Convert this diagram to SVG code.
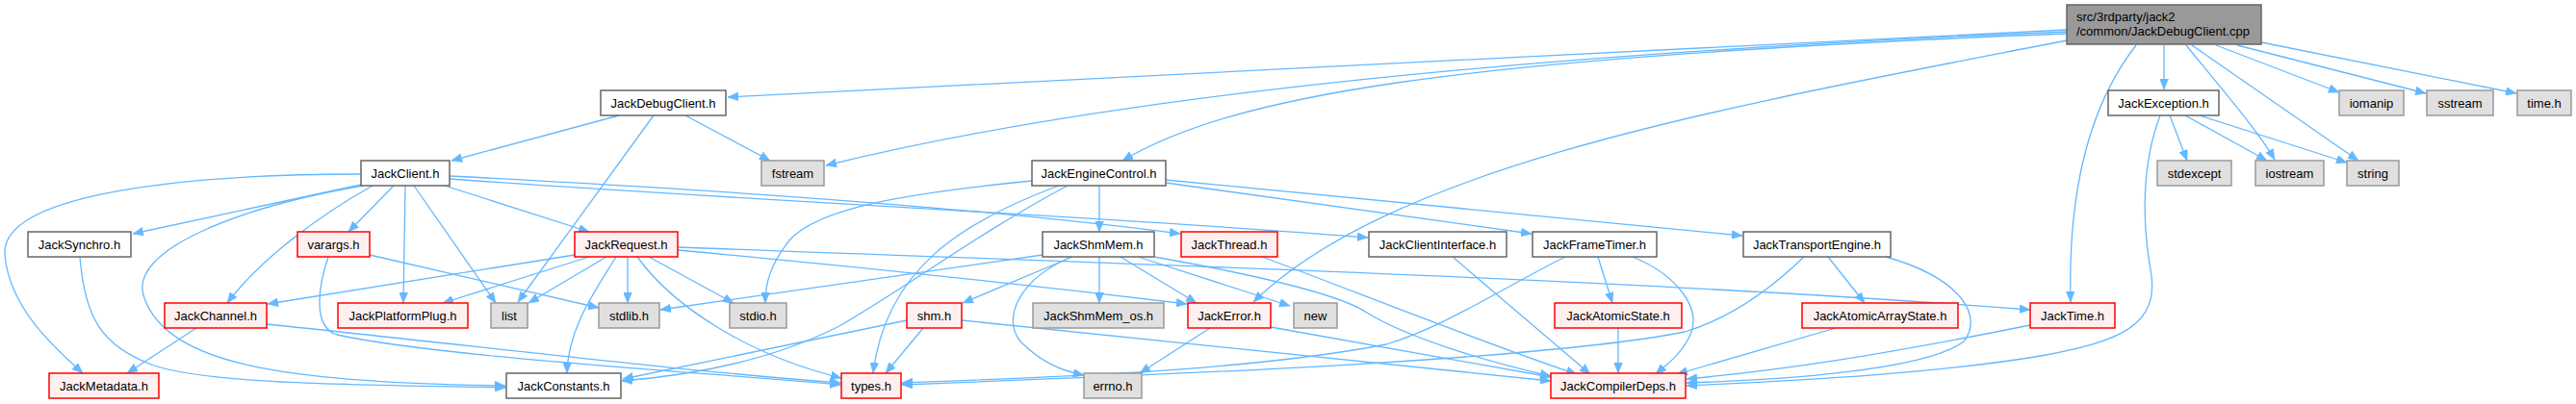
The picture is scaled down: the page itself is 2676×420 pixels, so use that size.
<svg xmlns="http://www.w3.org/2000/svg" width="2676" height="420" viewBox="0 0 2676 420">
<style>
text{font-family:"Liberation Sans",Arial,sans-serif;font-size:13px;fill:#000;text-anchor:middle}
.n rect{fill:#fff;stroke:#666;stroke-width:1.5}
.g rect{fill:#e0e0e0;stroke:#999;stroke-width:1.5}
.r rect{fill:#fff0f0;stroke:#f00;stroke-width:1.5}
.root rect{fill:#999;stroke:#666;stroke-width:1.5}
.root text{text-anchor:start}
#edges path{fill:none;stroke:#63b8ff;stroke-width:1.3;marker-end:url(#ah)}
</style>
<defs>
<marker id="ah" markerUnits="userSpaceOnUse" markerWidth="12" markerHeight="9" refX="11" refY="4.5" orient="auto">
<path d="M0,0 L11,4.5 L0,9 z" fill="#63b8ff" stroke="#63b8ff" stroke-width="0.5"/>
</marker>
</defs>
<rect width="2676" height="420" fill="#fff"/>
<g id="edges">
<path d="M2147,31 C1700,55 1100,80 756,101"/>
<path d="M2147,33 C1600,55 1150,100 858,172"/>
<path d="M2147,35 C1500,60 1280,100 1166,167"/>
<path d="M2147,42 C1800,110 1450,170 1302,314"/>
<path d="M2219,47 C2170,110 2148,200 2151,314"/>
<path d="M2248,47 L2248,93"/>
<path d="M2271,47 C2310,95 2345,135 2363,166"/>
<path d="M2277,47 L2450,167"/>
<path d="M2302,47 L2430,96"/>
<path d="M2324,47 L2520,97"/>
<path d="M2349,44 L2614,97"/>
<path d="M643,120 L469,167"/>
<path d="M679,120 L538,314"/>
<path d="M712,120 L800,167"/>
<path d="M375,181 C200,181 0,200 5,265 C10,320 55,360 86,388"/>
<path d="M375,192 L138,243"/>
<path d="M377,193 C250,215 130,260 150,310 C175,380 300,398 525,401"/>
<path d="M387,193 C330,225 270,270 236,315"/>
<path d="M409,193 L362,241"/>
<path d="M421,193 L419,315"/>
<path d="M430,193 L515,315"/>
<path d="M462,193 L612,241"/>
<path d="M467,183 C800,200 1050,220 1226,243"/>
<path d="M467,186 C800,210 1150,225 1421,247"/>
<path d="M83,267 C88,330 105,360 160,380 C220,400 380,400 525,403"/>
<path d="M384,265 L622,320"/>
<path d="M341,267 C330,300 325,340 350,348 C450,370 700,385 873,400"/>
<path d="M597,265 L278,316"/>
<path d="M612,267 L460,315"/>
<path d="M630,267 L549,315"/>
<path d="M652,267 L652,315"/>
<path d="M674,267 L762,315"/>
<path d="M640,267 C620,300 590,340 589,388"/>
<path d="M662,267 C700,320 780,370 874,393"/>
<path d="M704,260 C900,278 1100,300 1233,316"/>
<path d="M704,257 C1100,272 1700,290 2109,322"/>
<path d="M204,341 L132,388"/>
<path d="M277,337 C500,360 700,385 873,398"/>
<path d="M1142,193 L1142,241"/>
<path d="M1211,190 L1591,243"/>
<path d="M1211,187 L1810,245"/>
<path d="M1072,188 C950,200 850,215 820,250 C800,275 795,295 795,315"/>
<path d="M1100,193 C1000,230 920,280 907,388"/>
<path d="M1109,193 C1020,240 940,300 870,340 C800,375 720,390 646,396"/>
<path d="M1083,265 L686,322"/>
<path d="M1114,267 L1000,315"/>
<path d="M1111,268 C1060,290 1040,330 1060,355 C1080,375 1100,385 1126,390"/>
<path d="M1142,267 L1142,315"/>
<path d="M1164,267 L1243,315"/>
<path d="M1182,267 L1340,318"/>
<path d="M1199,267 C1300,285 1390,305 1420,325 C1460,350 1540,375 1611,391"/>
<path d="M1311,267 C1400,300 1550,360 1638,389"/>
<path d="M1509,267 L1652,389"/>
<path d="M1660,267 L1675,315"/>
<path d="M1696,267 C1740,285 1770,320 1755,350 C1745,370 1730,380 1720,389"/>
<path d="M1626,267 C1560,300 1500,340 1440,358 C1300,385 1100,392 937,398"/>
<path d="M1899,267 L1937,315"/>
<path d="M1874,267 C1840,300 1800,330 1750,345 C1600,375 1200,390 937,400"/>
<path d="M1959,267 C2040,290 2060,330 2040,355 C2000,385 1850,395 1752,398"/>
<path d="M959,341 L920,388"/>
<path d="M942,333 L647,394"/>
<path d="M999,333 L1611,396"/>
<path d="M1257,341 L1184,388"/>
<path d="M1320,340 L1611,392"/>
<path d="M1681,341 L1681,388"/>
<path d="M1907,341 L1742,389"/>
<path d="M2109,338 C1950,370 1850,385 1752,394"/>
<path d="M2254,120 L2272,167"/>
<path d="M2270,120 L2355,167"/>
<path d="M2285,120 L2438,169"/>
<path d="M2244,120 C2225,170 2225,230 2234,280 C2245,340 2200,355 2120,370 C2000,390 1850,396 1752,401"/>
</g>
<g id="root" class="root"><rect x="2147" y="5" width="202" height="41"/><text x="2157" y="22">src/3rdparty/jack2</text><text x="2157" y="37">/common/JackDebugClient.cpp</text></g>
<g id="JackDebugClient" class="n"><rect x="624" y="94" width="130" height="26"/><text x="689" y="111.5">JackDebugClient.h</text></g>
<g id="JackException" class="n"><rect x="2190" y="94" width="115" height="26"/><text x="2247.5" y="111.5">JackException.h</text></g>
<g id="iomanip" class="g"><rect x="2430" y="94" width="67" height="26"/><text x="2463.5" y="111.5">iomanip</text></g>
<g id="sstream" class="g"><rect x="2521" y="94" width="69" height="26"/><text x="2555.5" y="111.5">sstream</text></g>
<g id="time" class="g"><rect x="2615" y="94" width="56" height="26"/><text x="2643" y="111.5">time.h</text></g>
<g id="fstream" class="g"><rect x="791" y="167" width="65" height="26"/><text x="823.5" y="184.5">fstream</text></g>
<g id="JackClient" class="n"><rect x="375" y="167" width="92" height="26"/><text x="421" y="184.5">JackClient.h</text></g>
<g id="JackEngineControl" class="n"><rect x="1072" y="167" width="139" height="26"/><text x="1141.5" y="184.5">JackEngineControl.h</text></g>
<g id="stdexcept" class="g"><rect x="2241" y="167" width="77" height="26"/><text x="2279.5" y="184.5">stdexcept</text></g>
<g id="iostream" class="g"><rect x="2343" y="167" width="71" height="26"/><text x="2378.5" y="184.5">iostream</text></g>
<g id="string" class="g"><rect x="2438" y="167" width="54" height="26"/><text x="2465" y="184.5">string</text></g>
<g id="JackSynchro" class="n"><rect x="29" y="241" width="107" height="26"/><text x="82.5" y="258.5">JackSynchro.h</text></g>
<g id="varargs" class="r"><rect x="309" y="241" width="75" height="26"/><text x="346.5" y="258.5">varargs.h</text></g>
<g id="JackRequest" class="r"><rect x="597" y="241" width="107" height="26"/><text x="650.5" y="258.5">JackRequest.h</text></g>
<g id="JackShmMem" class="n"><rect x="1083" y="241" width="116" height="26"/><text x="1141" y="258.5">JackShmMem.h</text></g>
<g id="JackThread" class="r"><rect x="1227" y="241" width="100" height="26"/><text x="1277" y="258.5">JackThread.h</text></g>
<g id="JackClientInterface" class="n"><rect x="1422" y="241" width="143" height="26"/><text x="1493.5" y="258.5">JackClientInterface.h</text></g>
<g id="JackFrameTimer" class="n"><rect x="1592" y="241" width="129" height="26"/><text x="1656.5" y="258.5">JackFrameTimer.h</text></g>
<g id="JackTransportEngine" class="n"><rect x="1811" y="241" width="153" height="26"/><text x="1887.5" y="258.5">JackTransportEngine.h</text></g>
<g id="JackChannel" class="r"><rect x="171" y="315" width="106" height="26"/><text x="224" y="332.5">JackChannel.h</text></g>
<g id="JackPlatformPlug" class="r"><rect x="351" y="315" width="135" height="26"/><text x="418.5" y="332.5">JackPlatformPlug.h</text></g>
<g id="list" class="g"><rect x="510" y="315" width="38" height="26"/><text x="529" y="332.5">list</text></g>
<g id="stdlib" class="g"><rect x="622" y="315" width="63" height="26"/><text x="653.5" y="332.5">stdlib.h</text></g>
<g id="stdio" class="g"><rect x="758" y="315" width="59" height="26"/><text x="787.5" y="332.5">stdio.h</text></g>
<g id="shm" class="r"><rect x="942" y="315" width="57" height="26"/><text x="970.5" y="332.5">shm.h</text></g>
<g id="JackShmMem_os" class="g"><rect x="1073" y="315" width="136" height="26"/><text x="1141" y="332.5">JackShmMem_os.h</text></g>
<g id="JackError" class="r"><rect x="1234" y="315" width="86" height="26"/><text x="1277" y="332.5">JackError.h</text></g>
<g id="new" class="g"><rect x="1344" y="315" width="45" height="26"/><text x="1366.5" y="332.5">new</text></g>
<g id="JackAtomicState" class="r"><rect x="1615" y="315" width="132" height="26"/><text x="1681" y="332.5">JackAtomicState.h</text></g>
<g id="JackAtomicArrayState" class="r"><rect x="1872" y="315" width="162" height="26"/><text x="1953" y="332.5">JackAtomicArrayState.h</text></g>
<g id="JackTime" class="r"><rect x="2109" y="315" width="88" height="26"/><text x="2153" y="332.5">JackTime.h</text></g>
<g id="JackMetadata" class="r"><rect x="51" y="388" width="114" height="26"/><text x="108" y="405.5">JackMetadata.h</text></g>
<g id="JackConstants" class="n"><rect x="526" y="388" width="119" height="26"/><text x="585.5" y="405.5">JackConstants.h</text></g>
<g id="types" class="r"><rect x="874" y="388" width="62" height="26"/><text x="905" y="405.5">types.h</text></g>
<g id="errno" class="g"><rect x="1126" y="388" width="60" height="26"/><text x="1156" y="405.5">errno.h</text></g>
<g id="JackCompilerDeps" class="r"><rect x="1611" y="388" width="140" height="26"/><text x="1681" y="405.5">JackCompilerDeps.h</text></g>
</svg>
